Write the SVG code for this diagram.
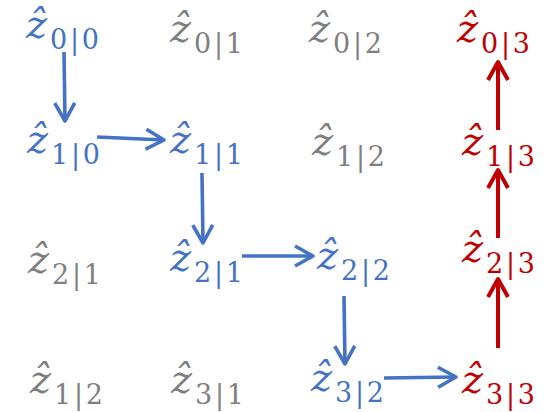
<svg xmlns="http://www.w3.org/2000/svg" width="552" height="412" viewBox="0 0 552 412">
<style>
.z{font-family:"DejaVu Serif","Liberation Serif",serif;font-style:italic;font-size:40px}
.s{font-family:"DejaVu Serif","Liberation Serif",serif;font-size:27px}
.b{fill:#4472C4}.r{fill:#C00000}.g{fill:#7F7F7F}
.cb{stroke:#4472C4;stroke-width:3.6;fill:none}
.cr{stroke:#C00000;stroke-width:4;fill:none}
</style>
<defs>
<marker id="ab" markerUnits="userSpaceOnUse" markerWidth="28" markerHeight="28" viewBox="0 0 28 28" refX="22" refY="14" orient="auto">
<path d="M4,4 L22,14 L4,24" fill="none" stroke="#4472C4" stroke-width="3.6" stroke-linejoin="round"/>
</marker>
<marker id="ar" markerUnits="userSpaceOnUse" markerWidth="28" markerHeight="28" viewBox="0 0 28 28" refX="22" refY="14" orient="auto">
<path d="M4,4 L22,14 L4,24" fill="none" stroke="#C00000" stroke-width="4" stroke-linejoin="round"/>
</marker>
</defs>
<rect width="552" height="412" fill="#fff"/>
<g id="n00" class="b" transform="translate(26,38)"><text class="z">ẑ</text><text class="s" x="24" y="11" textLength="49" lengthAdjust="spacing">0|0</text></g>
<g id="n01" class="g" transform="translate(170,42)"><text class="z">ẑ</text><text class="s" x="24" y="11" textLength="49" lengthAdjust="spacing">0|1</text></g>
<g id="n02" class="g" transform="translate(309,42)"><text class="z">ẑ</text><text class="s" x="24" y="11" textLength="49" lengthAdjust="spacing">0|2</text></g>
<g id="n03" class="r" transform="translate(457,42)"><text class="z">ẑ</text><text class="s" x="24" y="11" textLength="49" lengthAdjust="spacing">0|3</text></g>
<g id="n10" class="b" transform="translate(27,153)"><text class="z">ẑ</text><text class="s" x="24" y="11" textLength="49" lengthAdjust="spacing">1|0</text></g>
<g id="n11" class="b" transform="translate(170,153)"><text class="z">ẑ</text><text class="s" x="24" y="11" textLength="49" lengthAdjust="spacing">1|1</text></g>
<g id="n12" class="g" transform="translate(312,155)"><text class="z">ẑ</text><text class="s" x="24" y="11" textLength="49" lengthAdjust="spacing">1|2</text></g>
<g id="n13" class="r" transform="translate(462,155)"><text class="z">ẑ</text><text class="s" x="24" y="11" textLength="49" lengthAdjust="spacing">1|3</text></g>
<g id="n20" class="g" transform="translate(28,273)"><text class="z">ẑ</text><text class="s" x="24" y="11" textLength="49" lengthAdjust="spacing">2|1</text></g>
<g id="n21" class="b" transform="translate(170,271)"><text class="z">ẑ</text><text class="s" x="24" y="11" textLength="49" lengthAdjust="spacing">2|1</text></g>
<g id="n22" class="b" transform="translate(317,269)"><text class="z">ẑ</text><text class="s" x="24" y="11" textLength="49" lengthAdjust="spacing">2|2</text></g>
<g id="n23" class="r" transform="translate(462,262)"><text class="z">ẑ</text><text class="s" x="24" y="11" textLength="49" lengthAdjust="spacing">2|3</text></g>
<g id="n30" class="g" transform="translate(30,393)"><text class="z">ẑ</text><text class="s" x="24" y="11" textLength="49" lengthAdjust="spacing">1|2</text></g>
<g id="n31" class="g" transform="translate(171,393)"><text class="z">ẑ</text><text class="s" x="24" y="11" textLength="49" lengthAdjust="spacing">3|1</text></g>
<g id="n32" class="b" transform="translate(311,391)"><text class="z">ẑ</text><text class="s" x="24" y="11" textLength="49" lengthAdjust="spacing">3|2</text></g>
<g id="n33" class="r" transform="translate(462,393)"><text class="z">ẑ</text><text class="s" x="24" y="11" textLength="49" lengthAdjust="spacing">3|3</text></g>
<g id="connectors">
<line class="cb" x1="64" y1="52" x2="65" y2="121" marker-end="url(#ab)"/>
<line class="cb" x1="97" y1="137" x2="164" y2="140" marker-end="url(#ab)"/>
<line class="cb" x1="202" y1="173" x2="203" y2="243" marker-end="url(#ab)"/>
<line class="cb" x1="242" y1="256" x2="313" y2="256" marker-end="url(#ab)"/>
<line class="cb" x1="344" y1="296" x2="345" y2="364" marker-end="url(#ab)"/>
<line class="cb" x1="384" y1="378" x2="456" y2="377" marker-end="url(#ab)"/>
<line class="cr" x1="498" y1="348" x2="498" y2="279" marker-end="url(#ar)"/>
<line class="cr" x1="498" y1="238" x2="498" y2="170" marker-end="url(#ar)"/>
<line class="cr" x1="498" y1="130" x2="498" y2="62" marker-end="url(#ar)"/>
</g>
</svg>
